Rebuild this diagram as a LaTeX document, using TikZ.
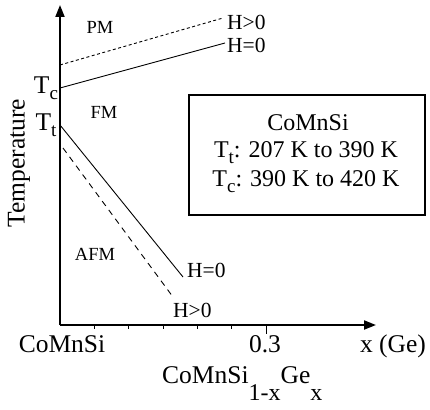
\documentclass[tikz,border=0pt]{standalone}
\usepackage{fontspec}
\setmainfont{Liberation Serif}
\usetikzlibrary{arrows.meta, positioning}

% lowered subscript: depth, size, text
\newcommand{\dropsub}[3]{\raisebox{-#1}{\fontsize{#2}{#2}\selectfont #3}}

\begin{document}
\begin{tikzpicture}[
    x=1pt, y=-1pt,
    axis/.style={line width=2pt, -{Triangle[length=12pt, width=9pt]}},
    bound/.style={line width=0.9pt},
    finedash/.style={bound, dash pattern=on 3pt off 2.5pt},
    coarsedash/.style={bound, dash pattern=on 6pt off 5pt},
    phase/.style={inner sep=0pt, font=\fontsize{18.5}{22}\selectfont},
    hlabel/.style={inner sep=0pt, font=\fontsize{21.5}{25}\selectfont},
    biglabel/.style={inner sep=0pt, font=\fontsize{25.5}{30}\selectfont},
    infotext/.style={inner sep=0pt, font=\fontsize{24}{28}\selectfont},
]
\useasboundingbox (0,0) rectangle (430,409);

% Axes
\coordinate (origin) at (60,325);
\coordinate (ytop) at (60,5);
\coordinate (xend) at (376,325);
\draw[axis] (origin) -- (ytop);
\draw[axis] (origin) -- (xend);

% Ticks
\foreach \t in {1,...,5}
  \draw[line width=0.4pt] (60+\t*34.33,325) -- (60+\t*34.33,328.5);
\draw[line width=1pt] (266,325) -- (266,334);

% Phase boundaries
\coordinate (tcpos) at (60,65);
\coordinate (tczero) at (60,88);
\coordinate (ttzero) at (60,125);
\coordinate (ttpos) at (63,148);
\coordinate (tcposend) at (223,18);
\coordinate (tczeroend) at (225,43);
\coordinate (ttzeroend) at (183,277);
\coordinate (ttposend) at (173,297);

\draw[finedash] (tcpos) -- (tcposend);
\draw[bound] (tczero) -- (tczeroend);
\draw[bound] (ttzero) -- (ttzeroend);
\draw[coarsedash] (ttpos) -- (ttposend);

% Field labels
\node[hlabel, anchor=west, right=4pt of tcposend, yshift=-4pt] (hpos1) {H>0};
\node[hlabel, anchor=west, right=2pt of tczeroend, yshift=-2pt] (hzero1) {H=0};
\node[hlabel, anchor=west, right=4pt of ttzeroend, yshift=7pt] (hzero2) {H=0};
\node[hlabel, anchor=west, right=0pt of ttposend, yshift=-13pt] (hpos2) {H>0};

% Phases
\node[phase] (pm) at (100,27) {PM};
\node[phase] (fm) at (104,112) {FM};
\node[phase] (afm) at (95,254) {AFM};

% Temperatures on the axis
\node[biglabel, anchor=base] (tc) at (46,93) {T\dropsub{6pt}{19}{c}};
\node[biglabel, anchor=base] (tt) at (46,130) {T\dropsub{6pt}{19}{t}};

% Axis labels
\node[biglabel, rotate=90] (temp) at (19,163) {Temperature};
\node[biglabel, anchor=base] (base) at (62,352) {CoMnSi};
\node[biglabel, anchor=base] (xmark) at (265,352) {0.3};
\node[biglabel, anchor=base] (xunit) at (393,352) {x (Ge)};
\node[biglabel, anchor=base west] (formula) at (162,383)
  {CoMnSi\dropsub{17pt}{24}{1-x}Ge\dropsub{17pt}{24}{x}};

% Info box
\node[draw, line width=1.5pt, minimum width=236pt, minimum height=120pt, inner sep=0pt] (infobox) at (307,155) {};
\node[infotext] (compound) at (308,123) {CoMnSi};
\node[infotext] (ttrange) at (306,153) {T\dropsub{6pt}{19}{t}: 207 K to 390 K};
\node[infotext] (tcrange) at (306,182) {T\dropsub{6pt}{19}{c}: 390 K to 420 K};

\end{tikzpicture}
\end{document}
